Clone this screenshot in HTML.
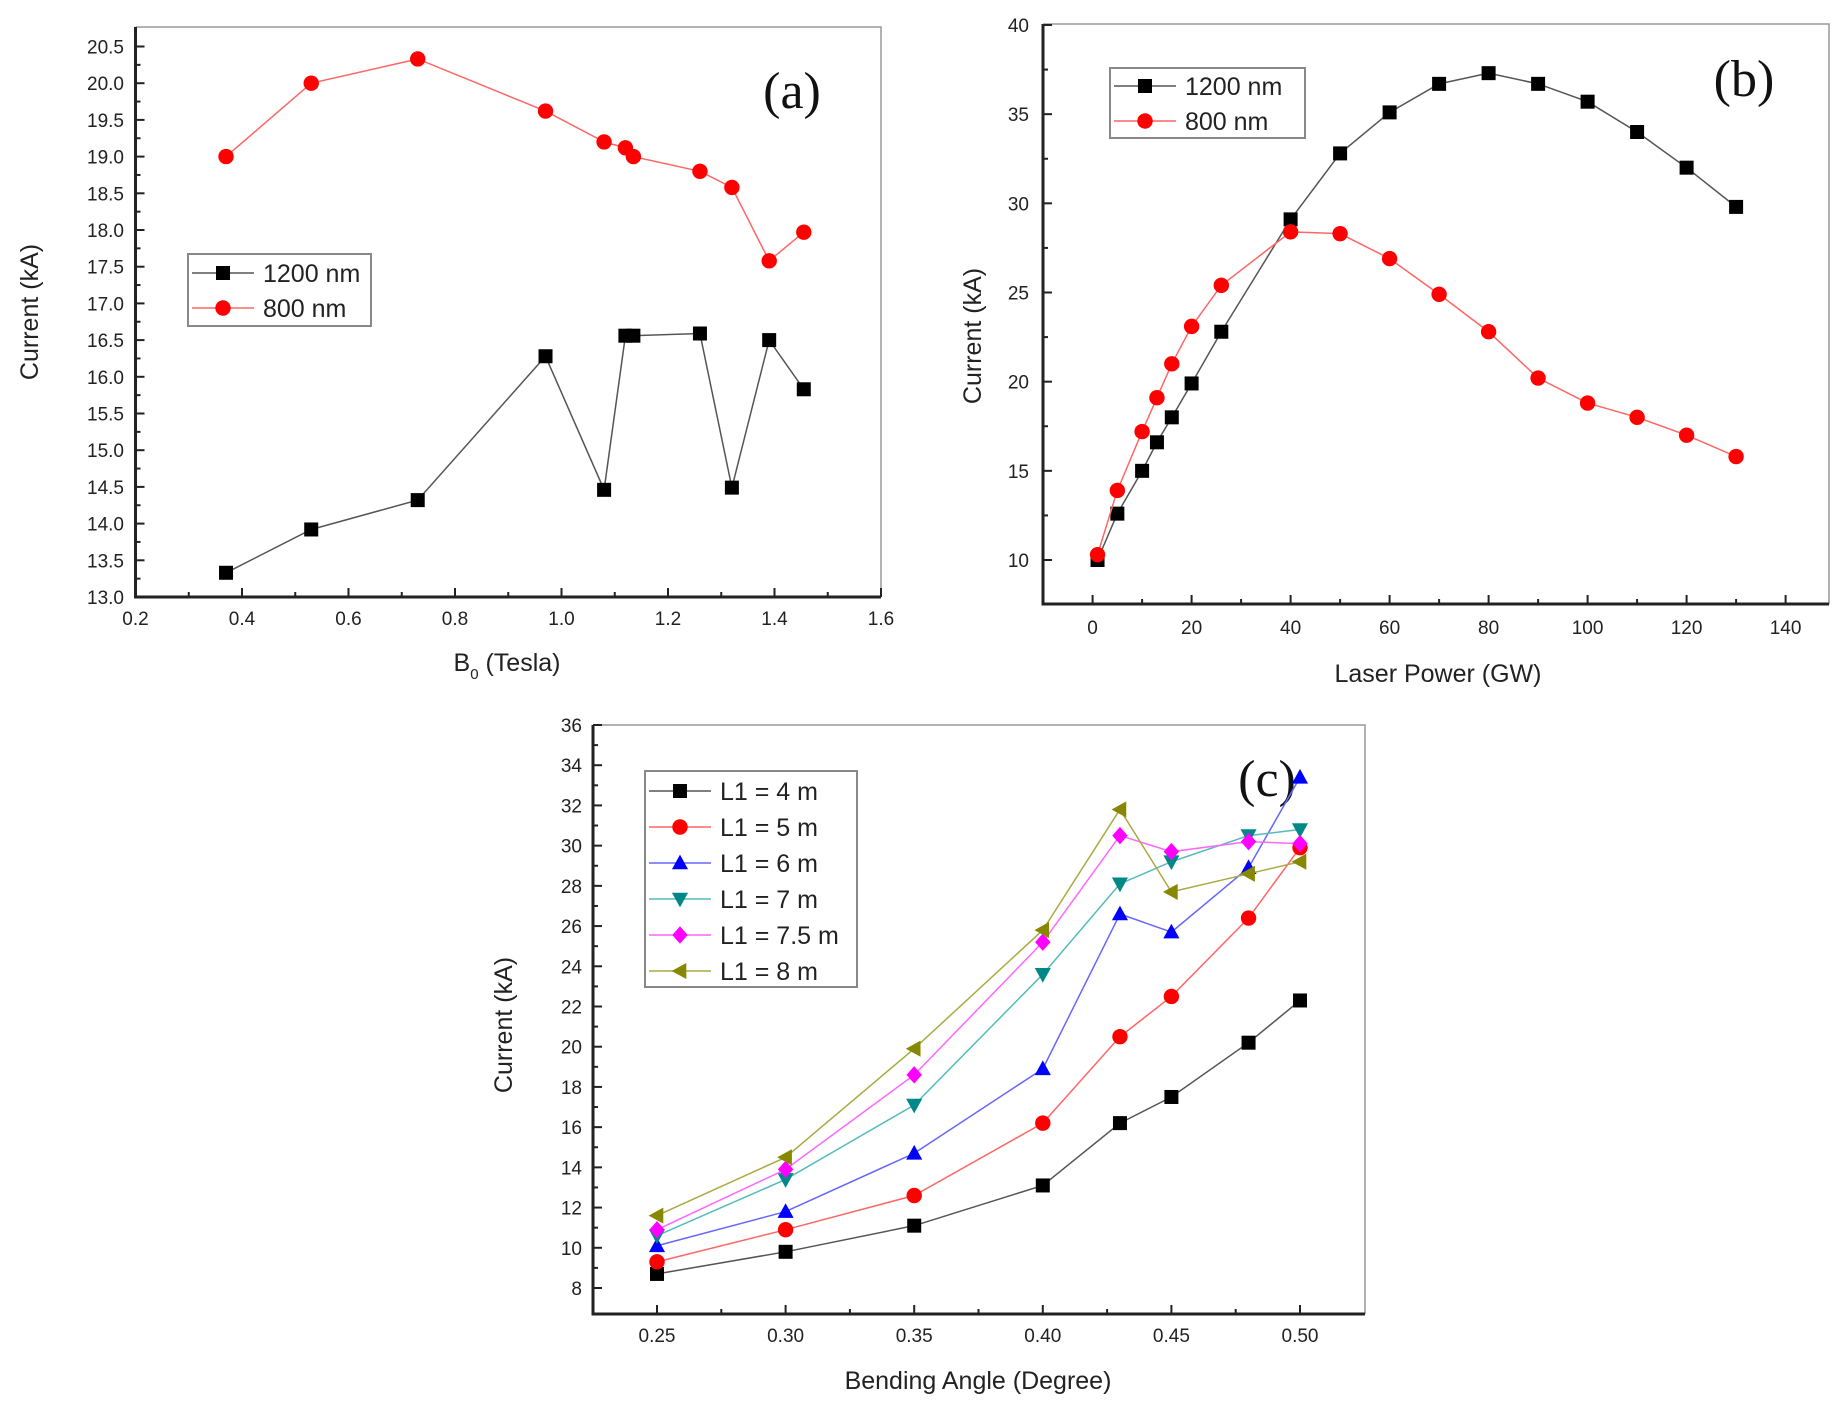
<!DOCTYPE html>
<html><head><meta charset="utf-8">
<style>
html,body{margin:0;padding:0;background:#fff;}
svg{display:block;font-family:"Liberation Sans",Arial,sans-serif;}
</style></head>
<body>
<svg id="fig" width="1848" height="1422" viewBox="0 0 1848 1422" xmlns="http://www.w3.org/2000/svg"></svg>
<script>
// ---- Panel (a) data ----
const aX = [0.37,0.53,0.73,0.97,1.08,1.12,1.135,1.26,1.32,1.39,1.455];
const a800 = [19.0,20.0,20.33,19.62,19.2,19.12,19.0,18.8,18.58,17.58,17.97];
const a1200 = [13.33,13.92,14.32,16.28,14.46,16.56,16.56,16.59,14.49,16.5,15.83];
const aXTicks = ["0.2","0.4","0.6","0.8","1.0","1.2","1.4","1.6"];
const aYTicks = ["13.0","13.5","14.0","14.5","15.0","15.5","16.0","16.5","17.0","17.5","18.0","18.5","19.0","19.5","20.0","20.5"];
// ---- Panel (b) data ----
const bX = [1,5,10,13,16,20,26,40,50,60,70,80,90,100,110,120,130];
const b1200 = [10,12.6,15,16.6,18,19.9,22.8,29.1,32.8,35.1,36.7,37.3,36.7,35.7,34,32,29.8];
const b800 = [10.3,13.9,17.2,19.1,21,23.1,25.4,28.4,28.3,26.9,24.9,22.8,20.2,18.8,18,17,15.8];
const bXTicks = ["0","20","40","60","80","100","120","140"];
const bYTicks = ["10","15","20","25","30","35","40"];
// ---- Panel (c) data ----
const cX = [0.25,0.30,0.35,0.40,0.43,0.45,0.48,0.50];
const cL4 = [8.7,9.8,11.1,13.1,16.2,17.5,20.2,22.3];
const cL5 = [9.3,10.9,12.6,16.2,20.5,22.5,26.4,29.9];
const cL6 = [10.1,11.8,14.7,18.9,26.6,25.7,28.9,33.4];
const cL7 = [10.6,13.4,17.1,23.6,28.1,29.2,30.5,30.8];
const cL75 = [10.9,13.9,18.6,25.2,30.5,29.7,30.2,30.1];
const cL8 = [11.6,14.5,19.9,25.8,31.8,27.7,28.6,29.2];
const cXTicks = ["0.25","0.30","0.35","0.40","0.45","0.50"];
const cYTicks = ["8","10","12","14","16","18","20","22","24","26","28","30","32","34","36"];

const NS = "http://www.w3.org/2000/svg";
const svg = document.getElementById('fig');
function el(tag, attrs, parent, text){
  const e = document.createElementNS(NS, tag);
  for (const k in attrs) e.setAttribute(k, attrs[k]);
  if (text !== undefined) e.textContent = text;
  (parent || svg).appendChild(e);
  return e;
}
function lin(d0,d1,p0,p1){ return v => p0 + (v-d0)*(p1-p0)/(d1-d0); }

function marker(g, type, x, y, color, s){
  let m;
  if (type === 'square') m = el('rect',{x:x-s,y:y-s,width:2*s,height:2*s,fill:color},g);
  else if (type === 'circle') m = el('circle',{cx:x,cy:y,r:s*1.1,fill:color},g);
  else if (type === 'up') m = el('polygon',{points:`${x},${y-s*1.2} ${x-s*1.15},${y+s*0.9} ${x+s*1.15},${y+s*0.9}`,fill:color},g);
  else if (type === 'down') m = el('polygon',{points:`${x},${y+s*1.2} ${x-s*1.15},${y-s*0.9} ${x+s*1.15},${y-s*0.9}`,fill:color},g);
  else if (type === 'diamond') m = el('polygon',{points:`${x},${y-s*1.25} ${x+s*1.1},${y} ${x},${y+s*1.25} ${x-s*1.1},${y}`,fill:color},g);
  else if (type === 'left') m = el('polygon',{points:`${x-s*1.2},${y} ${x+s*0.9},${y-s*1.15} ${x+s*0.9},${y+s*1.15}`,fill:color},g);
  
  
  return m;
}

function panel(cfg){
  const g = el('g',{});
  
  
  const X = lin(cfg.xd[0],cfg.xd[1],cfg.xp[0],cfg.xp[1]);
  const Y = lin(cfg.yd[0],cfg.yd[1],cfg.yp[0],cfg.yp[1]);
  const f = cfg.frame; // left,right,top,bottom
  // frame top/right
  const fr = el('path',{d:`M${f[0]},${f[2]} H${f[1]} V${f[3]}`,stroke:'#999',fill:'none','stroke-width':1.5},g);
   
  // axes
  const ax = el('path',{d:`M${f[0]},${f[2]} V${f[3]} H${f[1]}`,stroke:'#222',fill:'none','stroke-width':3},g);
   
  // x ticks
  cfg.xTicks.forEach((t,i)=>{
    const v = cfg.xMaj0 + i*cfg.xStep; const px = X(v);
    el('line',{x1:px,y1:f[3],x2:px,y2:f[3]-9,stroke:'#222','stroke-width':2},g);
    const tl = el('text',{x:px,y:cfg.xLabY,'text-anchor':'middle','font-size':19,fill:'#222'},g,t);
     
    if (i < cfg.xTicks.length-1){
      const mx = X(v+cfg.xStep/2);
      el('line',{x1:mx,y1:f[3],x2:mx,y2:f[3]-5,stroke:'#222','stroke-width':2},g);
    }
  });
  cfg.yTicks.forEach((t,i)=>{
    const v = cfg.yMaj0 + i*cfg.yStep; const py = Y(v);
    el('line',{x1:f[0],y1:py,x2:f[0]+9,y2:py,stroke:'#222','stroke-width':2},g);
    const tl = el('text',{x:cfg.yLabX,y:py+7,'text-anchor':'end','font-size':19,fill:'#222'},g,t);
     
    if (i < cfg.yTicks.length-1){
      const my = Y(v+cfg.yStep/2);
      el('line',{x1:f[0],y1:my,x2:f[0]+5,y2:my,stroke:'#222','stroke-width':2},g);
    }
  });
  // axis titles
  const yt = el('text',{x:0,y:0,'text-anchor':'middle','font-size':25,fill:'#222',transform:`translate(${cfg.yTitle[0]},${cfg.yTitle[1]}) rotate(-90)`},g,'Current (kA)');
   
  const xt = el('text',{x:cfg.xTitle[0],y:cfg.xTitle[1],'text-anchor':'middle','font-size':25,fill:'#222'},g);
   
  xt.innerHTML = cfg.xTitleHTML;
  // panel letter
  const pl = el('text',{x:cfg.letter[0],y:cfg.letter[1],'text-anchor':'middle','font-size':52,'font-family':'"Liberation Serif",serif',fill:'#111'},g,cfg.letterText);
   
  // series
  cfg.series.forEach(s=>{
    const sg = el('g',{},g);
     
    const pts = s.y.map((v,i)=>X(s.x[i])+','+Y(v)).join(' ');
    el('polyline',{points:pts,fill:'none',stroke:s.line,'stroke-width':1.5},sg);
    s.y.forEach((v,i)=>marker(sg,s.m,X(s.x[i]),Y(v),s.color,7));
  });
  // legend
  const L = cfg.legend;
  const lg = el('g',{},g);
   
  el('rect',{x:L.x,y:L.y,width:L.w,height:L.h,fill:'#fff',stroke:'#888','stroke-width':2},lg);
  cfg.series.forEach((s,i)=>{
    const ry = L.y + L.pad + i*L.row;
    const eg = el('g',{},lg);
     
    el('line',{x1:L.x+4,y1:ry,x2:L.x+66,y2:ry,stroke:s.line,'stroke-width':1.5},eg);
    marker(eg,s.m,L.x+35,ry,s.color,7);
    el('text',{x:L.x+75,y:ry+9,'font-size':25,fill:'#222'},eg,s.label);
  });
}

panel({name:'panel-a', frame:[135.5,881,27,597], xd:[0.2,1.6], xp:[135.5,881], yd:[13,20.5], yp:[597,46.5],
  xTicks:aXTicks, xMaj0:0.2, xStep:0.2, yTicks:aYTicks, yMaj0:13, yStep:0.5, xLabY:625, yLabX:124,
  yTitle:[38,312], xTitle:[507,671], xTitleHTML:'B<tspan font-size="15" dy="8">0</tspan><tspan dy="-8"> (Tesla)</tspan>',
  letter:[792,108], letterText:'(a)',
  series:[{key:'1200nm',label:'1200 nm',x:aX,y:a1200,m:'square',color:'#000',line:'#555'},
          {key:'800nm',label:'800 nm',x:aX,y:a800,m:'circle',color:'#f00',line:'#f66'}],
  legend:{x:188,y:254,w:183,h:72,pad:19,row:35}});

panel({name:'panel-b', frame:[1043,1829,24,604], xd:[0,140], xp:[1092.6,1785.6], yd:[10,40], yp:[560,25],
  xTicks:bXTicks, xMaj0:0, xStep:20, yTicks:bYTicks, yMaj0:10, yStep:5, xLabY:634, yLabX:1029,
  yTitle:[981,336], xTitle:[1438,682], xTitleHTML:'Laser Power (GW)',
  letter:[1744,96], letterText:'(b)',
  series:[{key:'1200nm',label:'1200 nm',x:bX,y:b1200,m:'square',color:'#000',line:'#555'},
          {key:'800nm',label:'800 nm',x:bX,y:b800,m:'circle',color:'#f00',line:'#f66'}],
  legend:{x:1110,y:68,w:195,h:70,pad:18,row:35}});

panel({name:'panel-c', frame:[593,1365,725,1314], xd:[0.25,0.50], xp:[657,1300], yd:[8,36], yp:[1288,725],
  xTicks:cXTicks, xMaj0:0.25, xStep:0.05, yTicks:cYTicks, yMaj0:8, yStep:2, xLabY:1342, yLabX:582,
  yTitle:[512,1025], xTitle:[978,1389], xTitleHTML:'Bending Angle (Degree)',
  letter:[1267,796], letterText:'(c)',
  series:[{key:'l1-4m',label:'L1 = 4 m',x:cX,y:cL4,m:'square',color:'#000',line:'#555'},
          {key:'l1-5m',label:'L1 = 5 m',x:cX,y:cL5,m:'circle',color:'#f00',line:'#f66'},
          {key:'l1-6m',label:'L1 = 6 m',x:cX,y:cL6,m:'up',color:'#00f',line:'#66f'},
          {key:'l1-7m',label:'L1 = 7 m',x:cX,y:cL7,m:'down',color:'#088',line:'#5bb'},
          {key:'l1-7.5m',label:'L1 = 7.5 m',x:cX,y:cL75,m:'diamond',color:'#f0f',line:'#f6f'},
          {key:'l1-8m',label:'L1 = 8 m',x:cX,y:cL8,m:'left',color:'#880',line:'#aa4'}],
  legend:{x:645,y:771,w:212,h:216,pad:20,row:36}});
</script>
</body></html>
